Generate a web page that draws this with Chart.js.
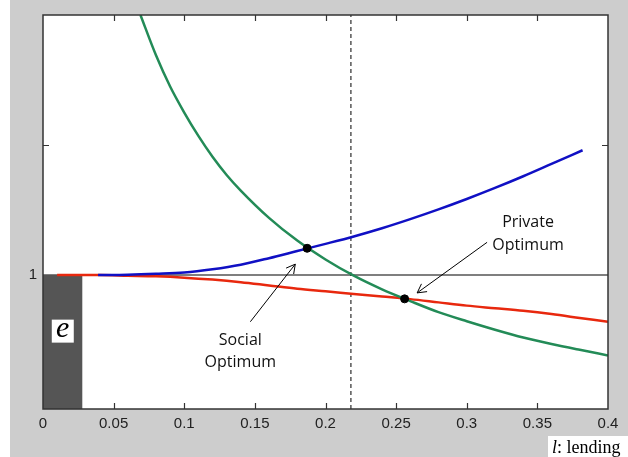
<!DOCTYPE html>
<html>
<head>
<meta charset="utf-8">
<script src="https://cdn.jsdelivr.net/npm/chart.js@4.4.1/dist/chart.umd.min.js"></script>
<style>
  body { margin: 0; background: #ffffff; }
  #mycanvas { display: block; }
</style>
</head>
<body>
<canvas id="mycanvas" width="628" height="457"></canvas>
<script>
// values (x = l lending, y = value)
var xTicks = [0, 0.05, 0.1, 0.15, 0.2, 0.25, 0.3, 0.35, 0.4];
var yTicks = [1, 2, 3];

var greenL = [0.069, 0.08, 0.09, 0.10, 0.11, 0.12, 0.13, 0.14, 0.16, 0.18, 0.20, 0.22, 0.24, 0.26, 0.28, 0.30, 0.32, 0.34, 0.36, 0.38, 0.40];
var greenV = [3.0, 2.69, 2.45, 2.25, 2.07, 1.91, 1.77, 1.65, 1.44, 1.265, 1.12, 0.995, 0.89, 0.80, 0.715, 0.645, 0.58, 0.52, 0.47, 0.425, 0.382];

var blueL = [0.039, 0.06, 0.08, 0.10, 0.12, 0.14, 0.16, 0.18, 0.20, 0.22, 0.24, 0.26, 0.28, 0.30, 0.32, 0.34, 0.36, 0.382];
var blueV = [1.0, 1.003, 1.01, 1.02, 1.045, 1.08, 1.13, 1.185, 1.24, 1.297, 1.36, 1.43, 1.505, 1.585, 1.67, 1.76, 1.855, 1.96];

var redL = [0.01, 0.04, 0.06, 0.08, 0.10, 0.12, 0.14, 0.16, 0.18, 0.20, 0.22, 0.24, 0.26, 0.28, 0.30, 0.32, 0.34, 0.36, 0.38, 0.40];
var redV = [1.0, 1.0, 0.995, 0.99, 0.98, 0.965, 0.945, 0.92, 0.895, 0.875, 0.855, 0.835, 0.815, 0.79, 0.765, 0.745, 0.725, 0.70, 0.67, 0.64];

var socialOpt = [0.187, 1.206];
var privateOpt = [0.256, 0.817];
var cutoffL = 0.218;
var eWidth = 0.028;

function pts(xs, ys) {
	var out = [];
	for (var i in xs) {
		out.push({x: xs[i], y: ys[i]});
	}
	return out;
}

var frameAndExtras = {
	id: 'frameAndExtras',
	beforeDraw: function(chart) {
		var c = chart.ctx, a = chart.chartArea;
		c.save();
		c.fillStyle = '#cdcdcd';
		c.fillRect(0, 0, chart.width, chart.height);
		c.fillStyle = '#ffffff';
		c.fillRect(0, 0, 10, chart.height);
		c.fillRect(a.left, a.top, a.right - a.left, a.bottom - a.top);
		c.restore();
	},
	afterDraw: function(chart) {
		var c = chart.ctx, a = chart.chartArea;
		var xs = chart.scales.x, ys = chart.scales.y;
		c.save();

		// frame
		c.strokeStyle = '#333333';
		c.lineWidth = 1.5;
		c.strokeRect(a.left, a.top, a.right - a.left, a.bottom - a.top);

		// inward ticks
		c.lineWidth = 1.2;
		c.beginPath();
		for (var i = 1; i < xTicks.length - 1; i++) {
			var px = Math.round(xs.getPixelForValue(xTicks[i])) + 0.5;
			c.moveTo(px, a.bottom); c.lineTo(px, a.bottom - 6);
			c.moveTo(px, a.top); c.lineTo(px, a.top + 6);
		}
		var py = Math.round(ys.getPixelForValue(2)) + 0.5;
		c.moveTo(a.left, py); c.lineTo(a.left + 6, py);
		c.moveTo(a.right, py); c.lineTo(a.right - 6, py);
		c.stroke();

		// "e" label
		var ex = xs.getPixelForValue(eWidth / 2), ey = ys.getPixelForValue(0.565);
		c.fillStyle = '#ffffff';
		c.fillRect(ex - 11, ey - 12, 22, 23);
		c.fillStyle = '#000000';
		c.font = 'italic 30px "Liberation Serif"';
		c.textAlign = 'center';
		c.textBaseline = 'middle';
		c.fillText('e', ex, ey - 3);

		// arrows
		function arrow(x1, y1, x2, y2) {
			var p1x = xs.getPixelForValue(x1), p1y = ys.getPixelForValue(y1);
			var p2x = xs.getPixelForValue(x2), p2y = ys.getPixelForValue(y2);
			var ang = Math.atan2(p2y - p1y, p2x - p1x);
			c.strokeStyle = '#000000';
			c.lineWidth = 1;
			c.beginPath();
			c.moveTo(p1x, p1y); c.lineTo(p2x, p2y);
			c.moveTo(p2x - 10 * Math.cos(ang - 0.5), p2y - 10 * Math.sin(ang - 0.5));
			c.lineTo(p2x, p2y);
			c.lineTo(p2x - 10 * Math.cos(ang + 0.5), p2y - 10 * Math.sin(ang + 0.5));
			c.stroke();
		}
		arrow(0.1468, 0.641, 0.1786, 1.084);
		arrow(0.3144, 1.252, 0.2649, 0.863);

		// annotation text
		c.font = '16px "Open Sans"';
		c.textAlign = 'center';
		c.textBaseline = 'alphabetic';
		c.fillStyle = '#111111';
		c.fillText('Social', xs.getPixelForValue(0.1397), ys.getPixelForValue(0.466));
		c.fillText('Optimum', xs.getPixelForValue(0.1397), ys.getPixelForValue(0.29));
		c.fillText('Private', xs.getPixelForValue(0.3434), ys.getPixelForValue(1.366));
		c.fillText('Optimum', xs.getPixelForValue(0.3434), ys.getPixelForValue(1.191));

		// axis title box
		c.fillStyle = '#ffffff';
		c.fillRect(a.right - 60, chart.height - 21, 80, 21);
		c.fillStyle = '#000000';
		c.textAlign = 'left';
		c.font = 'italic 18px "Liberation Serif"';
		c.fillText('l', a.right - 56, chart.height - 4);
		c.font = '18px "Liberation Serif"';
		c.fillText(': lending', a.right - 51, chart.height - 4);

		c.restore();
	}
};

var ctx = document.getElementById('mycanvas');

var chart = new Chart(ctx, {
	type: 'scatter',
	data: {
		datasets: [
			{
				label: 'optima',
				data: [{x: socialOpt[0], y: socialOpt[1]}, {x: privateOpt[0], y: privateOpt[1]}],
				backgroundColor: '#000000',
				borderColor: '#000000',
				pointRadius: 4,
				order: 0
			},
			{
				label: 'green',
				data: pts(greenL, greenV),
				showLine: true,
				borderColor: '#238b57',
				borderWidth: 2.5,
				pointRadius: 0,
				cubicInterpolationMode: 'monotone',
				order: 1
			},
			{
				label: 'blue',
				data: pts(blueL, blueV),
				showLine: true,
				borderColor: '#1010c4',
				borderWidth: 2.5,
				pointRadius: 0,
				cubicInterpolationMode: 'monotone',
				order: 2
			},
			{
				label: 'red',
				data: pts(redL, redV),
				showLine: true,
				borderColor: '#e8280e',
				borderWidth: 2.5,
				pointRadius: 0,
				cubicInterpolationMode: 'monotone',
				order: 3
			},
			{
				label: 'cutoff',
				data: [{x: cutoffL, y: -0.03}, {x: cutoffL, y: 3}],
				showLine: true,
				borderColor: '#000000',
				borderWidth: 1,
				borderDash: [4, 3],
				pointRadius: 0,
				order: 4
			},
			{
				label: 'one',
				data: [{x: 0, y: 1}, {x: 0.4, y: 1}],
				showLine: true,
				borderColor: '#555555',
				borderWidth: 1.5,
				pointRadius: 0,
				order: 5
			},
			{
				label: 'e',
				data: [{x: 0, y: 1}, {x: eWidth, y: 1}],
				showLine: true,
				borderWidth: 0,
				borderColor: 'rgba(0,0,0,0)',
				backgroundColor: '#555555',
				fill: 'start',
				pointRadius: 0,
				order: 6
			}
		]
	},
	options: {
		responsive: false,
		animation: false,
		layout: { padding: { left: 0, top: 13, right: 20, bottom: 0 } },
		plugins: {
			legend: { display: false },
			tooltip: { enabled: false }
		},
		scales: {
			x: {
				type: 'linear',
				min: 0,
				max: 0.4,
				afterFit: function(scale) { scale.height = 48; },
				afterBuildTicks: function(scale) {
					scale.ticks = xTicks.map(function(v) { return {value: v}; });
				},
				grid: { display: false, drawTicks: false },
				border: { display: false },
				ticks: {
					padding: 6,
					maxRotation: 0,
					autoSkip: false,
					color: '#222222',
					font: { family: 'Liberation Sans', size: 15 },
					callback: function(v) { return String(Number(v.toFixed(2))); }
				}
			},
			y: {
				type: 'linear',
				min: -0.03,
				max: 3,
				afterFit: function(scale) { scale.width = 43; },
				afterBuildTicks: function(scale) {
					scale.ticks = yTicks.map(function(v) { return {value: v}; });
				},
				grid: { display: false, drawTicks: false },
				border: { display: false },
				ticks: {
					padding: 6,
					color: '#222222',
					font: { family: 'Liberation Sans', size: 15 },
					callback: function(v) { return v === 1 ? '1' : ''; }
				}
			}
		}
	},
	plugins: [frameAndExtras]
});
</script>
</body>
</html>
